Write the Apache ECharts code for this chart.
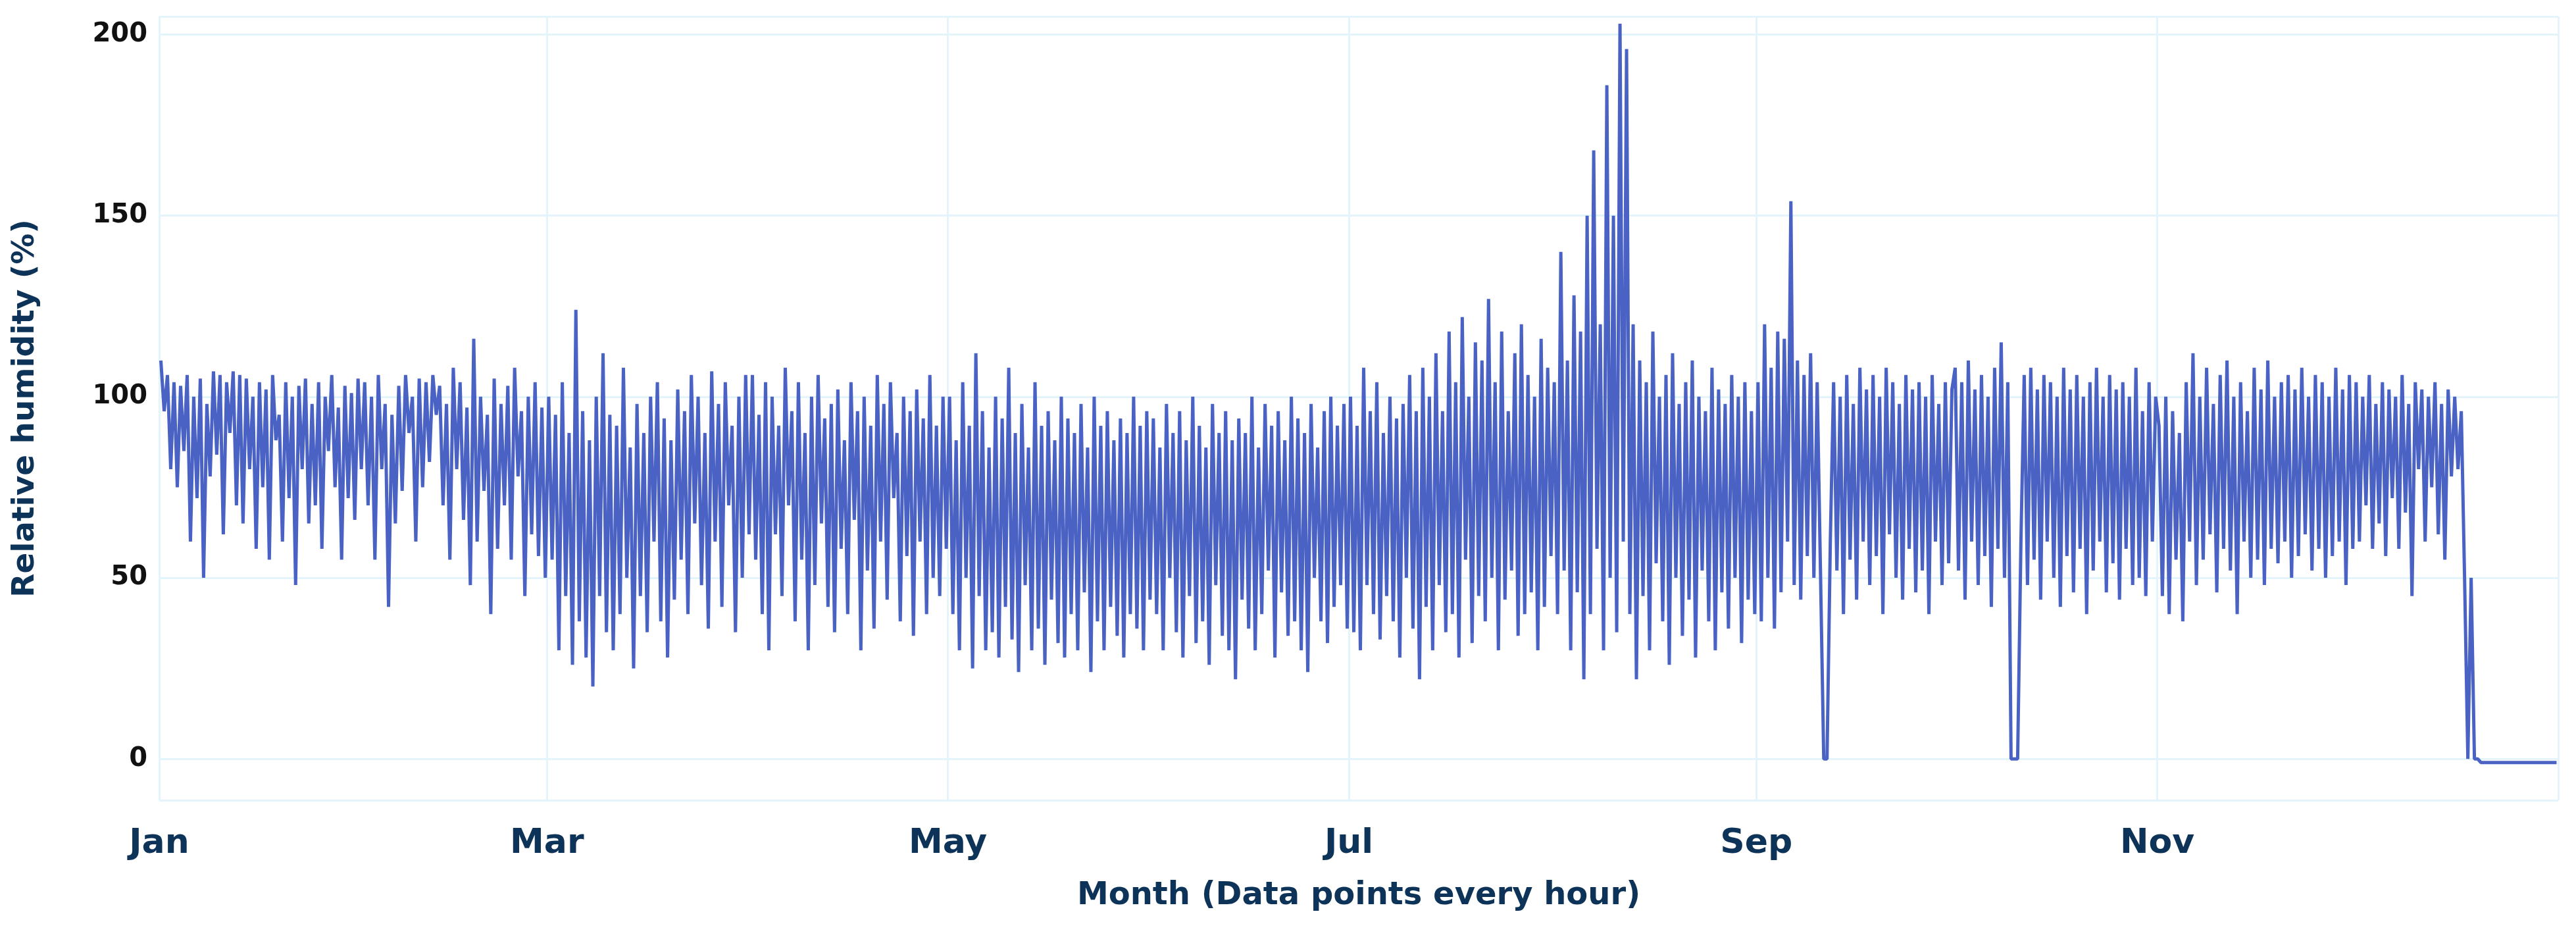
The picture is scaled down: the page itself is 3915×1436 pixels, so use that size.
<!DOCTYPE html>
<html><head><meta charset="utf-8">
<script src="https://cdn.jsdelivr.net/npm/echarts@6/dist/echarts.min.js"></script>
<style>html,body{margin:0;padding:0;background:#fff}#c{width:3915px;height:1436px}</style>
</head><body><div id="c"></div>
<script>
const monthNames=["Jan","Feb","Mar","Apr","May","Jun","Jul","Aug","Sep","Oct","Nov","Dec"];
const monthDays=[31,28,31,30,31,30,31,31,30,31,30,31];
const tickMonths=["Jan","Mar","May","Jul","Sep","Nov"];
const yTicks=[0,50,100,150,200];
const jan=[110,96,106,80,104,75,103,85,106,60,100,72,105,50,98,78,107,84,106,62,104,90,107,70,106,65,105,80,100,58,104,75,102,55,106,88,95,60,104,72,100,48,103,80,105,65,98,70,104,58,100,85,106,75,97,55,103,72,101,66,105,80];
const feb=[104,70,100,55,106,80,98,42,95,65,103,74,106,90,100,60,105,75,104,82,106,95,103,70,98,55,108,80,104,66,97,48,116,60,100,74,95,40,105,58,98,70,103,55,108,78,96,45,100,62,104,56,97,50];
const mar=[100,55,95,30,104,45,90,26,124,38,96,28,88,20,100,45,112,35,95,30,92,40,108,50,86,25,98,45,90,35,100,60,104,38,94,28,88,44,102,55,96,40,106,65,100,48,90,36,107,60,98,42,104,70,92,35,100,50,106,62];
const apr=[106,55,95,40,104,30,100,62,92,45,108,70,96,38,104,55,90,30,100,48,106,65,94,42,98,35,102,58,88,40,104,66,96,30,100,52,92,36,106,60,98,44,104,72,90,38,100,56,96,34,102,60,94,40,106,50,92,45,100,58];
const may=[100,40,88,30,104,50,92,25,112,45,96,30,86,35,100,28,94,42,108,33,90,24,98,48,86,30,104,36,92,26,96,44,88,32,100,28,94,40,90,30,98,46,86,24,100,38,92,30,96,42,88,34,94,28,90,40,100,36,92,30,96,44];
const jun=[94,40,86,30,98,50,90,35,96,28,88,45,100,32,92,38,86,26,98,48,90,34,96,30,88,22,94,44,90,36,100,30,86,40,98,52,92,28,96,46,88,34,100,38,94,30,90,24,98,50,86,38,96,32,100,42,92,48,98,36];
const jul=[100,35,92,30,108,48,96,40,104,33,90,45,100,38,94,28,98,50,106,36,96,22,108,42,100,30,112,48,96,35,118,40,104,28,122,55,100,32,115,45,110,38,127,50,104,30,118,44,96,52,112,34,120,40,106,46,100,30,116,42,108,56];
const aug=[104,40,140,52,110,30,128,46,118,22,150,40,168,58,120,30,186,50,150,35,203,60,196,40,120,22,110,45,104,30,118,54,100,38,106,26,112,50,98,34,104,44,110,28,100,52,96,38,108,30,102,46,98,36,106,50,100,32,104,44,96,40];
const sep=[104,38,120,50,108,36,118,46,116,60,154,48,110,44,106,56,112,50,104,52,0,0,60,104,52,100,40,106,55,98,44,108,60,102,48,106,56,100,40,108,62,104,50,98,44,106,58,102,46,104,52,100,40,106,60,98,48,104,54,102];
const oct=[108,52,104,44,110,60,102,48,106,56,100,42,108,58,115,50,104,0,0,0,60,106,48,108,55,102,44,106,60,104,50,100,42,108,56,102,46,106,58,100,40,104,52,108,60,100,46,106,54,102,44,104,58,100,48,108,50,96,45,104,60,100];
const nov=[92,45,100,40,96,55,90,38,104,60,112,48,100,55,108,62,98,46,106,58,110,52,100,40,104,60,96,50,108,55,102,48,110,58,100,54,104,60,106,50,102,56,108,62,100,52,106,58,104,50,100,56,108,60,102,48,106,58];
const dec=[104,60,100,70,106,58,98,65,104,56,102,72,100,58,106,68,98,45,104,80,102,60,100,75,104,62,98,55,102,78,100,80,96,50,0,50,0,0,-1,-1,-1,-1,-1,-1,-1,-1,-1,-1,-1,-1,-1,-1,-1,-1,-1,-1,-1,-1,-1,-1,-1,-1];
const months=[jan,feb,mar,apr,may,jun,jul,aug,sep,oct,nov,dec];

const monthStart=[];let acc=0;for(const d of monthDays){monthStart.push(acc);acc+=d;}
const data=[];
months.forEach((arr,m)=>{arr.forEach((v,k)=>{data.push([monthStart[m]+(k+0.5)/arr.length*monthDays[m],v]);});});
const tickPos=tickMonths.map(n=>monthStart[monthNames.indexOf(n)]);
const navy='#0d3358';
const grid='#e3f5fa';
const chart=echarts.init(document.getElementById('c'));
chart.setOption({
  animation:false,
  grid:{left:242,right:27,top:25,bottom:220},
  xAxis:{type:'value',min:0,max:365,
    name:'Month (Data points every hour)',nameLocation:'middle',nameGap:122,
    nameTextStyle:{fontFamily:'DejaVu Sans',fontWeight:'bold',fontSize:48,color:navy},
    axisLine:{show:false},axisTick:{show:false},
    axisLabel:{customValues:tickPos,formatter:v=>monthNames[monthStart.indexOf(Math.round(v))]||'',
      fontFamily:'DejaVu Sans',fontWeight:'bold',fontSize:52,color:navy,margin:40,align:'center'},
    splitLine:{show:false}},
  yAxis:{type:'value',min:-11.4,max:205,
    name:'Relative humidity (%)',nameLocation:'middle',nameGap:180,
    nameTextStyle:{fontFamily:'DejaVu Sans',fontWeight:'bold',fontSize:47,color:navy},
    axisLine:{show:false},axisTick:{show:false},
    axisLabel:{customValues:yTicks,fontFamily:'DejaVu Sans',fontWeight:'bold',fontSize:40,color:'#111',margin:18},
    splitLine:{show:false}},
  series:[{type:'line',data:data,showSymbol:false,lineStyle:{color:'#4a62c4',width:5},itemStyle:{color:'#4a62c4'},
    markLine:{silent:true,symbol:'none',label:{show:false},lineStyle:{color:grid,width:3,type:'solid'},z:-1,
      data:tickPos.map(p=>({xAxis:p})).concat([{xAxis:365}],yTicks.map(t=>({yAxis:t})),[{yAxis:205},{yAxis:-11.4}])}}]
});
</script></body></html>
